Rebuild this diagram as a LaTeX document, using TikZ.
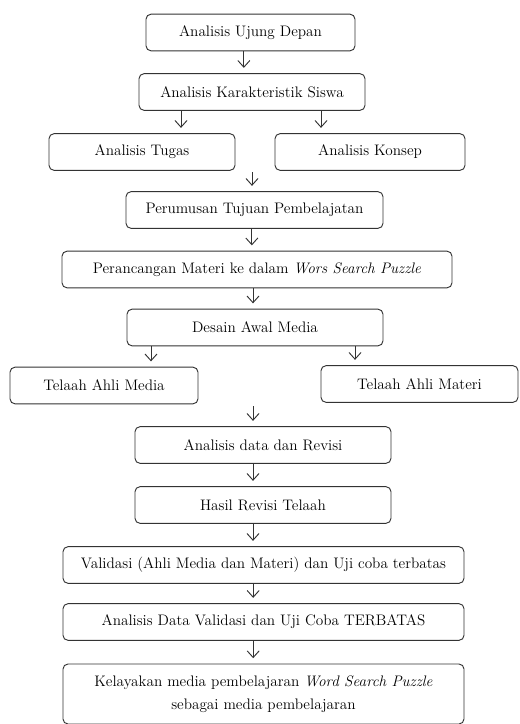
\documentclass[tikz,border=0pt]{standalone}
\usepackage{tikz}
\usetikzlibrary{arrows.meta,positioning,calc}

\begin{document}
\begin{tikzpicture}[x=0.03cm,y=-0.03cm,
    box/.style={draw=black!80,line width=0.8pt,rounded corners=0.15cm,
      minimum height=1.1cm,inner sep=2pt,align=center,
      font=\fontsize{13}{19.5}\selectfont},
    arr/.style={-{Straight Barb[length=0.2cm,width=0.36cm]},line width=0.8pt,
      draw=black!80,shorten >=0.16cm}]
  \useasboundingbox (0,0) rectangle (519,724);
  % boxes
  \node[box,minimum width=6.27cm] (ujung) at (250.5,32.5) {Analisis Ujung Depan};
  \node[box,minimum width=6.78cm] (karakter) at (252,92) {Analisis Karakteristik Siswa};
  \node[box,minimum width=5.58cm] (tugas) at (142,152) {Analisis Tugas};
  \node[box,minimum width=5.7cm] (konsep) at (370,152) {Analisis Konsep};
  \node[box,minimum width=7.71cm] (tujuan) at (254.5,210) {Perumusan Tujuan Pembelajatan};
  \node[box,minimum width=11.7cm] (rancang) at (257,269.5)
    {Perancangan Materi ke dalam \textit{Wors Search Puzzle}};
  \node[box,minimum width=7.68cm] (desain) at (255,327.5) {Desain Awal Media};
  \node[box,minimum width=5.64cm] (ahlimedia) at (104,385.5) {Telaah Ahli Media};
  \node[box,minimum width=5.91cm] (ahlimateri) at (419.5,384) {Telaah Ahli Materi};
  \node[box,minimum width=7.68cm] (revisi) at (263,445) {Analisis data dan Revisi};
  \node[box,minimum width=7.68cm] (hasil) at (263,505) {Hasil Revisi Telaah};
  \node[box,minimum width=12.03cm] (validasi) at (263.5,565)
    {Validasi (Ahli Media dan Materi) dan Uji coba terbatas};
  \node[box,minimum width=12.03cm] (datavalid) at (263.5,622)
    {Analisis Data Validasi dan Uji Coba TERBATAS};
  \node[box,minimum width=12.03cm,minimum height=1.8cm] (layak) at (263.5,694)
    {Kelayakan media pembelajaran \textit{Word Search Puzzle}\\sebagai media pembelajaran};
  % free arrow starts
  \coordinate (gapA) at (252,172);
  \coordinate (gapB) at (253,406);
  % arrows
  \draw[arr] ([xshift=-0.2cm]ujung.south) -- ([xshift=-0.2cm]ujung.south |- karakter.north);
  \draw[arr] ([xshift=-2.13cm]karakter.south) -- ([xshift=-2.13cm]karakter.south |- tugas.north);
  \draw[arr] ([xshift=2.07cm]karakter.south) -- ([xshift=2.07cm]karakter.south |- konsep.north);
  \draw[arr] (gapA) -- (gapA |- tujuan.north);
  \draw[arr] ([xshift=-0.08cm]tujuan.south) -- ([xshift=-0.08cm]tujuan.south |- rancang.north);
  \draw[arr] ([xshift=-0.12cm]rancang.south) -- ([xshift=-0.12cm]rancang.south |- desain.north);
  \draw[arr] ([xshift=-3.12cm]desain.south) -- ([xshift=-3.12cm]desain.south |- ahlimedia.north);
  \draw[arr] ([xshift=3cm]desain.south) -- ([xshift=3cm]desain.south |- ahlimateri.north);
  \draw[arr] (gapB) -- (gapB |- revisi.north);
  \draw[arr] ([xshift=-0.3cm]revisi.south) -- ([xshift=-0.3cm]revisi.south |- hasil.north);
  \draw[arr] ([xshift=-0.3cm]hasil.south) -- ([xshift=-0.3cm]hasil.south |- validasi.north);
  \draw[arr] ([xshift=-0.31cm]validasi.south) -- ([xshift=-0.31cm]validasi.south |- datavalid.north);
  \draw[arr] ([xshift=-0.31cm]datavalid.south) -- ([xshift=-0.31cm]datavalid.south |- layak.north);
\end{tikzpicture}
\end{document}
